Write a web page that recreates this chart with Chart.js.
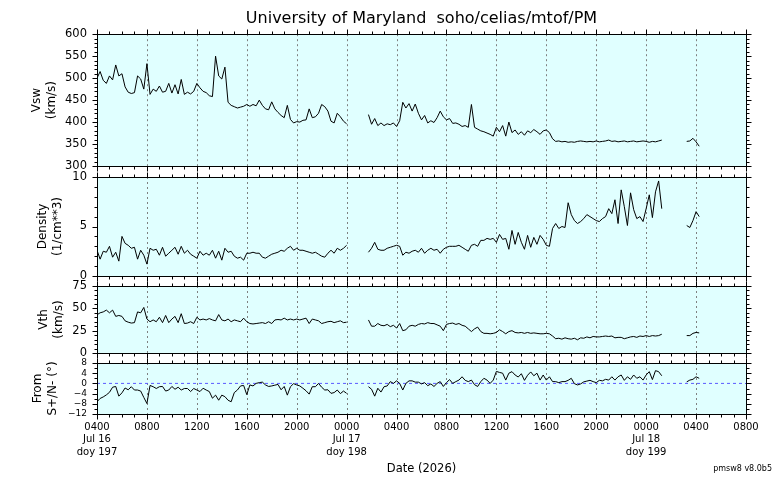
<!DOCTYPE html>
<html>
<head>
<meta charset="utf-8">
<script src="https://cdn.jsdelivr.net/npm/chart.js@4.4.1/dist/chart.umd.min.js"></script>
<style>
  body { margin: 0; background: #fff; }
  #wrap { position: relative; width: 776px; height: 480px; }
  #wrap canvas { position: absolute; left: 0; top: 0; }
</style>
</head>
<body>
<div id="wrap">
  <canvas id="vswChart" width="776" height="480"></canvas>
  <canvas id="densChart" width="776" height="480"></canvas>
  <canvas id="vthChart" width="776" height="480"></canvas>
  <canvas id="angleChart" width="776" height="480"></canvas>
</div>
<script>
// one sample every 15 min, hours counted from Jul 16 0000
const startHour = 4;
const stepHours = 0.25;

const vsw = [
  500, 515, 495, 488, 505, 496, 530, 505,
  510, 480, 468, 465, 467, 505, 498, 475,
  533, 463, 475, 470, 482, 468, 470, 488,
  466, 485, 464, 497, 463, 468, 464, 470,
  488, 478, 470, 467, 460, 458, 550, 505,
  498, 525, 445, 438, 435, 432, 434, 436,
  440, 436, 440, 437, 450, 438, 430, 428,
  446, 430, 422, 415, 410, 438, 406, 398,
  401, 400, 404, 405, 430, 410, 412, 420,
  440, 435, 425, 402, 398, 420, 412, 402,
  396, null, null, null, null, null, null, 417,
  395, 408, 392, 398, 392, 396, 394, 398,
  390, 403, 445, 432, 442, 425, 441, 420,
  405, 415, 398, 403, 399, 410, 425, 412,
  405, 408, 397, 398, 395, 390, 392, 388,
  440, 388, 384, 380, 378, 375, 372, 368,
  388, 378, 392, 368, 400, 376, 382, 372,
  378, 370, 380, 376, 383, 378, 372, 380,
  382, 376, 362, 356, 357, 355, 356, 354,
  355, 354, 356, 357, 356, 355, 356, 355,
  357, 355, 356, 357, 359, 356, 357, 355,
  356, 357, 355, 356, 357, 355, 356, 357,
  356, 354, 356, 355, 357, 359, null, null,
  null, null, null, null, null, 356, 357, 363,
  355, 345
];

const density = [
  2.6, 1.7, 2.5, 2.4, 3.0, 1.9, 2.4, 1.5,
  4.0, 3.3, 3.1, 2.8, 2.9, 1.7, 2.6, 2.1,
  1.2, 2.8, 2.6, 2.7, 2.1, 2.9, 2.0, 2.3,
  2.6, 2.9, 2.2, 3.0, 2.3, 2.6, 2.2, 2.0,
  1.8, 2.5, 2.1, 2.3, 2.1, 2.6, 1.8, 2.5,
  1.6, 2.8, 2.4, 2.5, 2.0, 1.8, 1.9, 1.6,
  2.3, 2.3, 2.4, 2.3, 2.3, 1.9, 1.8, 2.0,
  2.2, 2.3, 2.4, 2.6, 2.5, 2.8, 3.0, 2.6,
  2.8, 2.6, 2.6, 2.5, 2.4, 2.3, 2.4, 2.2,
  2.0, 1.9, 2.3, 2.6, 2.3, 2.8, 2.6, 2.8,
  3.1, null, null, null, null, null, null, 2.4,
  2.8, 3.4, 2.7, 2.6, 2.6, 2.8, 2.9, 3.0,
  3.1, 3.0, 2.1, 2.4, 2.3, 2.5, 2.6, 2.4,
  2.8, 2.3, 2.6, 2.8, 2.6, 2.7, 2.3, 2.7,
  2.9, 3.0, 3.0, 3.0, 3.1, 2.9, 2.7, 2.5,
  3.1, 3.2, 3.0, 3.6, 3.6, 3.8, 3.7, 3.8,
  3.4, 4.2, 3.7, 3.8, 2.7, 4.6, 3.2, 4.4,
  3.4, 2.7, 4.1, 2.9, 3.9, 3.2, 4.1, 3.7,
  3.1, 3.0, 4.8, 5.3, 4.8, 5.0, 4.9, 7.4,
  6.2, 5.6, 5.3, 5.5, 5.8, 6.2, 6.0, 5.8,
  5.6, 5.5, 5.8, 6.0, 6.8, 6.3, 7.7, 5.3,
  8.7, 7.0, 5.1, 8.4, 6.7, 5.8, 6.0, 5.5,
  6.8, 8.2, 5.9, 8.5, 9.6, 6.8, null, null,
  null, null, null, null, null, 5.1, 4.9, 5.6,
  6.5, 6.0
];

const vth = [
  42.8, 45, 46, 48, 45, 48, 41, 42,
  41, 36, 34.5, 33.5, 34, 46, 45, 51,
  38, 35, 37, 35, 40, 34, 42, 34,
  38, 41, 34, 44, 33, 33.5, 35, 33,
  40, 37, 38, 37, 38.5, 37, 36, 43,
  37, 36, 38, 35, 37, 36, 35, 39,
  35, 33, 32.5, 33, 33.5, 34, 33, 35,
  33, 37, 37.5, 37, 39, 37, 38, 37,
  38, 37, 38, 39, 33, 38, 37, 36,
  33, 34, 35, 35.5, 34, 35, 36, 34,
  34.5, null, null, null, null, null, null, 37,
  30, 30, 33, 31, 30.5, 32, 29.5, 31,
  28, 33, 25, 26, 30, 31, 30, 32,
  33, 32.5, 34, 33, 33, 31.5, 30, 25,
  32, 33, 33.5, 32, 33, 31, 30, 27,
  24, 27, 29, 24, 22, 22, 21.5, 22,
  23, 26, 24, 21.5, 24, 25, 23, 22.5,
  23, 22, 23, 22, 22.5, 22, 21.5, 21.5,
  22, 21.5, 19, 16, 16.5, 15.5, 17, 16,
  15.5, 16.5, 14.8, 17, 16.5, 18, 17, 18.5,
  18, 18, 18.5, 19, 18.5, 19, 17, 17.5,
  17.5, 16, 17, 18, 18.5, 17.5, 19, 18.5,
  19.5, 18.5, 19.5, 19, 19.5, 21, null, null,
  null, null, null, null, null, 19.5, 19.5, 22,
  23, 22.5
];

const flowAngle = [
  -7.2, -5.9, -5.3, -4.5, -3.5, -1.5, -1.2, -5.0,
  -3.7, -1.8, -2.5, -1.3, -2.6, -2.6, -3.0, -5.5,
  -7.9, -0.8, -1.3, -2.0, -1.3, -1.2, -3.0, -2.6,
  -1.2, -2.3, -1.5, -2.6, -2.0, -2.0, -3.2, -2.0,
  -2.6, -3.2, -1.9, -2.6, -3.2, -5.8, -4.6, -6.6,
  -4.6, -5.2, -6.6, -7.2, -3.6, -2.6, -1.0, -0.8,
  -4.4, -0.6, -1.0, 0.0, 0.3, 0.5, -0.6, -1.2,
  -1.0, -0.7, -0.4, -2.5, -1.2, -4.6, -1.3, -0.1,
  -0.6, -1.0, -1.9, -2.9, -4.2, -1.3, -1.3, 0.0,
  -1.5, -2.6, -2.5, -3.9, -3.6, -2.6, -4.0, -3.0,
  -3.9, null, null, null, null, null, null, -1.3,
  -2.3, -5.0, -1.9, -3.4, -1.3, -1.0, 0.7, 0.0,
  1.0, 0.0, -2.6, 0.0, 1.0, 1.0, 0.5, 0.5,
  -0.2, 0.3, -0.9, -0.2, -1.2, 0.0, 0.7, -1.2,
  0.3, 1.5, 0.0, 0.7, 1.3, 2.6, 1.2, 0.7,
  1.3, -0.5, -1.2, 0.7, 2.0, 1.3, 0.0, 1.3,
  4.7, 4.3, 4.0, 1.3, 4.0, 4.6, 3.3, 2.5,
  3.8, 1.2, 3.2, 4.5, 3.0, 4.0, 1.3, 3.3,
  1.3, 2.6, 0.7, 0.7, 0.3, 0.7, 0.7, 1.2,
  2.0, -0.1, -0.6, -0.2, 0.6, 0.9, 1.2, 0.7,
  0.3, 1.2, 1.0, 1.6, 1.3, 2.6, 1.3, 2.6,
  3.3, 1.2, 2.6, 1.6, 3.3, 2.0, 2.6, 1.3,
  3.3, 4.6, 1.5, 5.0, 4.6, 3.0, null, null,
  null, null, null, null, null, 0.6, 1.3, 1.6,
  2.6, 2.0
];

const dayLabels = ["Jul 16", "Jul 17", "Jul 18"];
const doyLabels = ["doy 197", "doy 198", "doy 199"];
const angleZero = 0;

const hours = vsw.map((v, i) => startHour + i * stepHours);

Chart.defaults.font.family = "DejaVu Sans";
Chart.defaults.color = "#000";

// cyan background, dashed 4-hour grid, black frame and outward ticks
const framePlugin = {
  id: "frame",
  beforeDraw(chart) {
    const a = chart.chartArea, ctx = chart.ctx;
    ctx.save();
    ctx.fillStyle = "#e0ffff";
    ctx.fillRect(a.left, a.top, a.right - a.left, a.bottom - a.top);
    ctx.restore();
  },
  beforeDatasetsDraw(chart) {
    const a = chart.chartArea, ctx = chart.ctx, x = chart.scales.x;
    ctx.save();
    ctx.strokeStyle = "#808080";
    ctx.lineWidth = 1;
    ctx.setLineDash([2, 3]);
    for (let h = x.min + 4; h < x.max; h += 4) {
      const px = Math.round(x.getPixelForValue(h)) + 0.5;
      ctx.beginPath();
      ctx.moveTo(px, a.top);
      ctx.lineTo(px, a.bottom);
      ctx.stroke();
    }
    ctx.restore();
  },
  afterDatasetsDraw(chart, args, opts) {
    const a = chart.chartArea, ctx = chart.ctx, x = chart.scales.x, y = chart.scales.y;
    const L = Math.round(a.left) + 0.5, R = Math.round(a.right) + 0.5;
    const T = Math.round(a.top) + 0.5, B = Math.round(a.bottom) + 0.5;
    ctx.save();
    ctx.strokeStyle = "#000";
    ctx.lineWidth = 1;
    ctx.strokeRect(L, T, R - L, B - T);
    ctx.beginPath();
    for (let h = x.min; h <= x.max; h += 1) {
      const px = Math.round(x.getPixelForValue(h)) + 0.5;
      const len = h % 4 === 0 ? 5 : 3;
      ctx.moveTo(px, T); ctx.lineTo(px, T - len);
      ctx.moveTo(px, B); ctx.lineTo(px, B + len);
    }
    for (let v = y.min; v <= y.max + 1e-9; v += opts.minor) {
      const py = Math.round(y.getPixelForValue(v)) + 0.5;
      const major = Math.abs(v / opts.major - Math.round(v / opts.major)) < 1e-6;
      const len = major ? 5 : 3;
      ctx.moveTo(L, py); ctx.lineTo(L - len, py);
      ctx.moveTo(R, py); ctx.lineTo(R + len, py);
    }
    ctx.stroke();
    ctx.restore();
  }
};

const versionPlugin = {
  id: "version",
  afterDraw(chart) {
    const ctx = chart.ctx;
    ctx.save();
    ctx.font = "8px 'DejaVu Sans'";
    ctx.fillStyle = "#000";
    ctx.textAlign = "right";
    ctx.textBaseline = "middle";
    ctx.fillText("pmsw8 v8.0b5", 772, 469);
    ctx.restore();
  }
};

function timeLabel(value) {
  const hhmm = String(value % 24).padStart(2, "0") + "00";
  const day = Math.floor(value / 24);
  if (value === startHour || value % 24 === 0) {
    return [hhmm, dayLabels[day], doyLabels[day]];
  }
  return hhmm;
}

function minusSign(v) {
  return v < 0 ? "\u2212" + (-v) : String(v);
}

function makePanel(id, values, p) {
  const datasets = [{
    data: hours.map((h, i) => ({ x: h, y: values[i] })),
    borderColor: "#000",
    borderWidth: 1,
    pointRadius: 0,
    tension: 0,
    spanGaps: false
  }];
  if (p.zeroLine) {
    datasets.push({
      data: [{ x: 4, y: angleZero }, { x: 56, y: angleZero }],
      borderColor: "#5b5bff",
      borderWidth: 1,
      borderDash: [3, 3],
      pointRadius: 0
    });
  }
  return new Chart(document.getElementById(id), {
    type: "line",
    data: { datasets: datasets },
    options: {
      responsive: false,
      animation: false,
      events: [],
      layout: { padding: { left: 0, right: 30, top: p.top, bottom: p.bottom } },
      plugins: {
        legend: { display: false },
        tooltip: { enabled: false },
        title: p.title || { display: false },
        frame: { minor: p.minor, major: p.step }
      },
      scales: {
        x: {
          type: "linear",
          min: 4,
          max: 56,
          display: !!p.showX,
          grid: { display: false, drawTicks: false },
          border: { display: false },
          ticks: {
            stepSize: 4,
            autoSkip: false,
            maxRotation: 0,
            padding: 7,
            font: { size: 10, lineHeight: 1.25 },
            callback: timeLabel
          },
          title: {
            display: true,
            text: "Date (2026)",
            font: { size: 11.5 },
            padding: { top: 0, bottom: 4 }
          },
          afterFit: function (s) { s.height = p.showX ? 66 : 0; }
        },
        y: {
          min: p.min,
          max: p.max,
          grid: { display: false, drawTicks: false },
          border: { display: false },
          ticks: {
            stepSize: p.step,
            autoSkip: false,
            padding: 10,
            font: { size: p.tickSize },
            callback: minusSign
          },
          title: {
            display: true,
            text: p.label,
            font: { size: 12, lineHeight: 1.2 },
            padding: { top: p.labelPad, bottom: 0 }
          },
          afterFit: function (s) { s.width = 97; }
        }
      }
    },
    plugins: p.showX ? [framePlugin, versionPlugin] : [framePlugin]
  });
}

makePanel("vswChart", vsw, {
  top: 0, bottom: 314, min: 300, max: 600, step: 50, minor: 10,
  tickSize: 11.5, label: ["Vsw", "(km/s)"], labelPad: 30,
  title: {
    display: true,
    text: "University of Maryland  soho/celias/mtof/PM",
    fullSize: false,
    font: { size: 16, weight: "normal" },
    padding: { top: 9, bottom: 6 }
  }
});

makePanel("densChart", density, {
  top: 177, bottom: 204, min: 0, max: 10, step: 5, minor: 1,
  tickSize: 11.5, label: ["Density", "(1/cm**3)"], labelPad: 36
});

makePanel("vthChart", vth, {
  top: 286, bottom: 127, min: 0, max: 75, step: 25, minor: 5,
  tickSize: 11.5, label: ["Vth", "(km/s)"], labelPad: 37
});

makePanel("angleChart", flowAngle, {
  top: 363, bottom: 0, min: -12, max: 8, step: 4, minor: 2,
  tickSize: 9, label: ["From", "S+/N- (\u00b0)"], labelPad: 31,
  zeroLine: true, showX: true
});
</script>
</body>
</html>
